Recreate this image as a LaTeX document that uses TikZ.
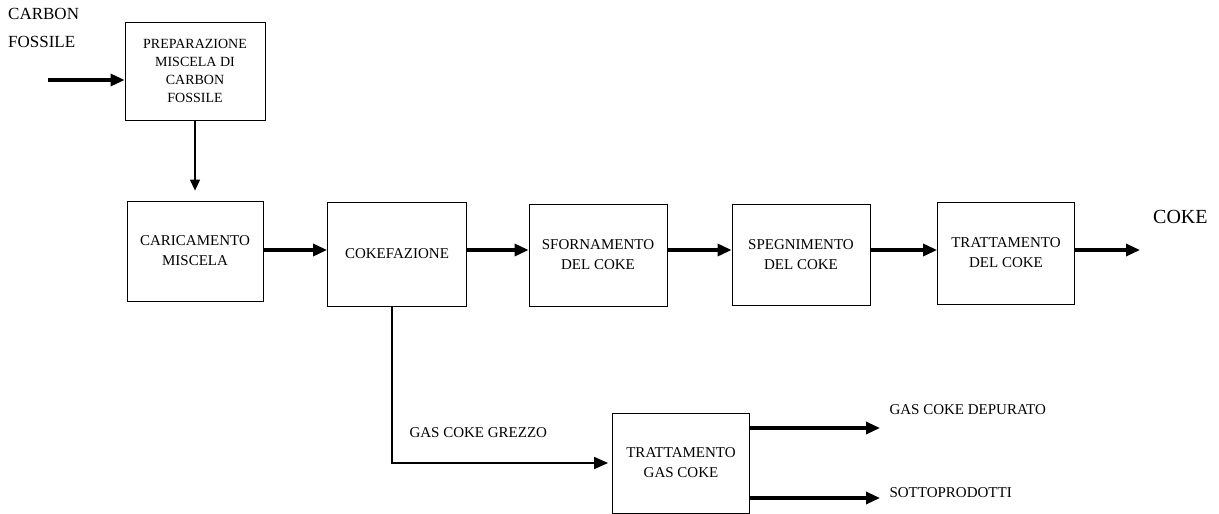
\documentclass[tikz,border=0pt]{standalone}
\usepackage{fontspec}
\setmainfont{Liberation Serif}
\usetikzlibrary{arrows.meta}
\begin{document}
\begin{tikzpicture}[x=1pt,y=-1pt,>={Triangle[length=14pt,width=12pt]},
    stepbox/.style={draw,line width=0.8pt,align=center,inner sep=2pt,
      font=\fontsize{15}{20}\selectfont},
    flowarrow/.style={->,line width=3.2pt},
    flowtext/.style={font=\fontsize{15}{19}\selectfont,anchor=west}]
    \useasboundingbox (0,0) rectangle (1219,514);

    % Define the positions of the nodes
    \node[stepbox,minimum width=140pt,minimum height=98pt,font=\fontsize{14}{18}\selectfont] (prep) at (195,71) {PREPARAZIONE\\MISCELA DI\\CARBON\\FOSSILE};
    \node[stepbox,minimum width=136pt,minimum height=100pt] (caric) at (195,251) {CARICAMENTO\\MISCELA};
    \node[stepbox,minimum width=139pt,minimum height=104pt] (cokef) at (397,254) {COKEFAZIONE};
    \node[stepbox,minimum width=138pt,minimum height=102pt] (sforn) at (598,255) {SFORNAMENTO\\DEL COKE};
    \node[stepbox,minimum width=138pt,minimum height=101pt] (spegn) at (801,255) {SPEGNIMENTO\\DEL COKE};
    \node[stepbox,minimum width=137pt,minimum height=102pt] (tratc) at (1006,253) {TRATTAMENTO\\DEL COKE};
    \node[stepbox,minimum width=137pt,minimum height=100pt] (tratg) at (681,463) {TRATTAMENTO\\GAS COKE};

    \node[font=\fontsize{17}{28}\selectfont,align=left,anchor=north west,inner sep=0pt] (carbon) at (8,8) {CARBON\\FOSSILE};
    \node[font=\fontsize{20}{22}\selectfont,anchor=west,inner sep=0pt] (coke) at (1153,217) {COKE};
    \node[flowtext] (grezzo) at (406,433) {GAS COKE GREZZO};
    \node[flowtext] (depurato) at (886,410) {GAS COKE DEPURATO};
    \node[flowtext] (sotto) at (886,493) {SOTTOPRODOTTI};

    \coordinate (carbin) at (48,80);
    \coordinate (row) at (0,250);
    \coordinate (cokeout) at (1140,250);
    \coordinate (depout) at (880,428);
    \coordinate (sottout) at (880,498);

    % Draw the edges
    \draw[flowarrow] (carbin) -- (prep.west |- carbin);
    \draw[->,line width=1.2pt,>={Triangle[length=11pt,width=10pt]}] (prep.south) -- ([yshift=10pt]caric.north);
    \draw[flowarrow] (caric.east |- row) -- (cokef.west |- row);
    \draw[flowarrow] (cokef.east |- row) -- (sforn.west |- row);
    \draw[flowarrow] (sforn.east |- row) -- (spegn.west |- row);
    \draw[flowarrow] (spegn.east |- row) -- (tratc.west |- row);
    \draw[flowarrow] (tratc.east |- row) -- (cokeout);
    \draw[->,line width=1.8pt,shorten >=4pt] ([xshift=-5pt]cokef.south) |- (tratg.west);
    \draw[flowarrow] (tratg.east |- depout) -- (depout);
    \draw[flowarrow] (tratg.east |- sottout) -- (sottout);
\end{tikzpicture}
\end{document}
